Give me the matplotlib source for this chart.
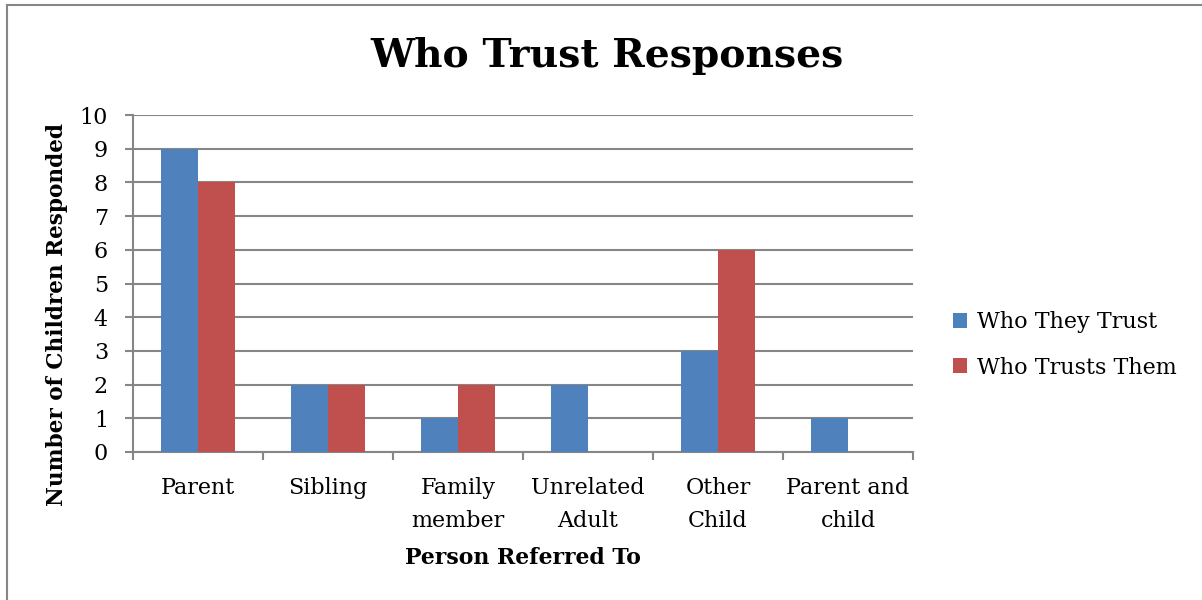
import matplotlib
matplotlib.use("Agg")
import matplotlib.pyplot as plt
from matplotlib.lines import Line2D
import numpy as np

categories = ["Parent", "Sibling", "Family\nmember", "Unrelated\nAdult", "Other\nChild", "Parent and\nchild"]
who_they_trust = [9, 2, 1, 2, 3, 1]
who_trusts_them = [8, 2, 2, 0, 6, 0]
series_names = ["Who They Trust", "Who Trusts Them"]
y_ticks = list(range(0, 11))

BLUE = "#4F81BD"
RED = "#C0504D"
GRID = "#868686"
FONT = "DejaVu Serif"

plt.rcParams["font.family"] = FONT

W, H = 1202, 600
fig = plt.figure(figsize=(W / 100, H / 100), dpi=100)
left, right, top, bottom = 133, 913, 115, 452
ax = fig.add_axes([left / W, 1 - bottom / H, (right - left) / W, (bottom - top) / H])

x = np.arange(len(categories))
w = 1 / 3.5
ax.bar(x - w / 2, who_they_trust, width=w, color=BLUE, label=series_names[0], zorder=3)
ax.bar(x + w / 2, who_trusts_them, width=w, color=RED, label=series_names[1], zorder=3)

ax.set_xlim(-0.5, len(categories) - 0.5)
ax.set_ylim(0, 10)
ax.set_yticks(y_ticks)
ax.set_yticklabels([str(v) for v in y_ticks], fontsize=16)
ax.yaxis.grid(True, color=GRID, linewidth=1.5, zorder=0)
ax.set_axisbelow(True)

ax.set_xticks(x)
ax.set_xticklabels(categories, fontsize=16, linespacing=1.62)
ax.set_xticks(np.arange(-0.5, len(categories)), minor=True)
ax.tick_params(axis="x", which="major", length=0, pad=18)
ax.tick_params(axis="x", which="minor", length=6, width=1.5, color=GRID)
ax.tick_params(axis="y", length=6, width=1.5, color=GRID, pad=12)

for side in ("top", "right"):
    ax.spines[side].set_visible(False)
for side in ("left", "bottom"):
    ax.spines[side].set_color(GRID)
    ax.spines[side].set_linewidth(1.5)

ax.set_xlabel("Person Referred To", fontsize=15.8, fontweight="bold", labelpad=11)
fig.text(57 / W, 1 - 315 / H, "Number of Children Responded", rotation=90,
         ha="center", va="center", fontsize=15.6, fontweight="bold")

fig.text(607 / W, 1 - 56 / H, "Who Trust Responses", ha="center", va="center",
         fontsize=28.3, fontweight="bold")

ax.legend(loc="center left", bbox_to_anchor=(953 / W, 1 - 345 / H),
          bbox_transform=fig.transFigure, frameon=False, fontsize=16,
          borderpad=0, borderaxespad=0,
          handlelength=0.65, handleheight=0.65, handletextpad=0.45, labelspacing=1.05)

# chart area frame (top and left edges)
fig.add_artist(Line2D([7 / W, 1.0], [1 - 5 / H, 1 - 5 / H], color=GRID, linewidth=1.5,
                      transform=fig.transFigure))
fig.add_artist(Line2D([7 / W, 7 / W], [0, 1 - 5 / H], color=GRID, linewidth=1.5,
                      transform=fig.transFigure))

fig.savefig("out.png", dpi=100)
